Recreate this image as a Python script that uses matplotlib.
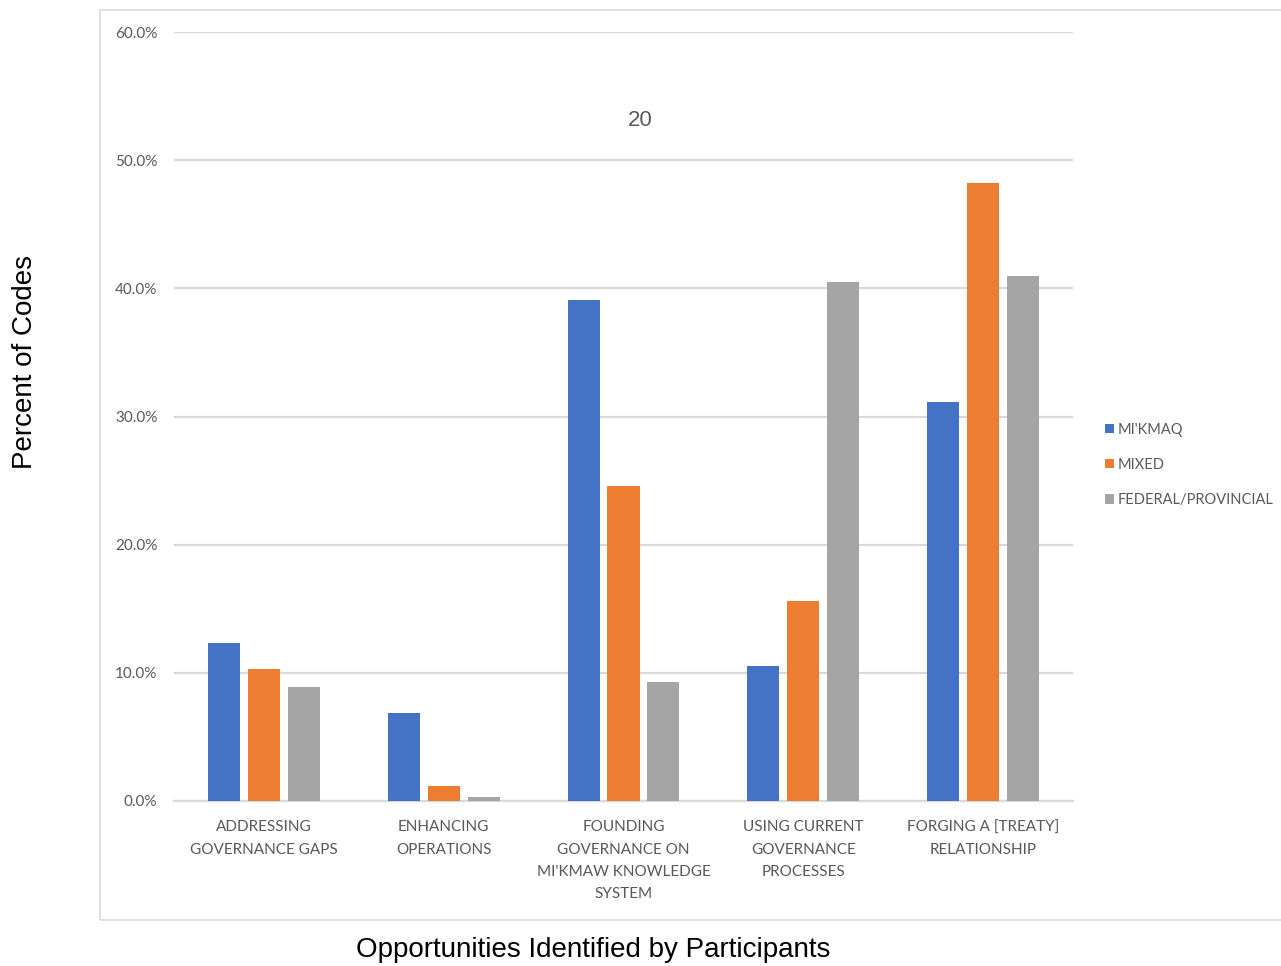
import numpy as np
import matplotlib.pyplot as plt
from matplotlib.patches import Rectangle
from matplotlib.ticker import PercentFormatter

categories = ['ADDRESSING\nGOVERNANCE GAPS',
              'ENHANCING\nOPERATIONS',
              'FOUNDING\nGOVERNANCE ON\nMI\'KMAW KNOWLEDGE\nSYSTEM',
              'USING CURRENT\nGOVERNANCE\nPROCESSES',
              'FORGING A [TREATY]\nRELATIONSHIP']
mikmaq = [12.3, 6.9, 39.1, 10.5, 31.1]
mixed = [10.3, 1.2, 24.6, 15.6, 48.2]
fed_prov = [8.9, 0.3, 9.3, 40.5, 41.0]
series_names = ["MI'KMAQ", 'MIXED', 'FEDERAL/PROVINCIAL']

colors = ['#4472C4', '#ED7D31', '#A5A5A5']
txt_gray = '#595959'
grid_gray = '#D9D9D9'
lab_font = ['Lato', 'DejaVu Sans']

W, H = 1281, 966
fig = plt.figure(figsize=(W / 100, H / 100), dpi=100)

# outer chart border
fig.patches.append(Rectangle((100 / W, 1 - 920 / H), 1.2, (920 - 10) / H,
                             transform=fig.transFigure, fill=False,
                             edgecolor=grid_gray, linewidth=1.2, zorder=0))

ax = fig.add_axes([174 / W, 1 - 801 / H, (1073 - 174) / W, (801 - 32) / H])

x = np.arange(len(categories))
bw = 0.178
off = 0.222
bars = []
for i, (vals, c) in enumerate(zip([mikmaq, mixed, fed_prov], colors)):
    b = ax.bar(x + (i - 1) * off, vals, bw, color=c, zorder=3)
    bars.append(b)

ax.set_xlim(-0.5, len(categories) - 0.5)
ax.set_ylim(0, 60)
ax.set_yticks(np.arange(0, 61, 10))
ax.yaxis.set_major_formatter(PercentFormatter(decimals=1))
ax.set_xticks(x)
ax.set_xticklabels(categories, linespacing=1.75)
ax.grid(axis='y', color=grid_gray, linewidth=1.6, zorder=0)
ax.set_axisbelow(True)
for s in ['top', 'right', 'left']:
    ax.spines[s].set_visible(False)
ax.spines['bottom'].set_color(grid_gray)
ax.spines['bottom'].set_linewidth(1.6)
ax.tick_params(axis='both', length=0, colors=txt_gray)
ax.tick_params(axis='y', pad=12, labelsize=11)
ax.tick_params(axis='x', pad=14, labelsize=11)
for t in ax.get_xticklabels() + ax.get_yticklabels():
    t.set_family(lab_font)

fig.text(640 / W, 1 - 121 / H, '20', ha='center', va='center',
         fontsize=16, color=txt_gray, family=['Liberation Sans'])

fig.text(25 / W, 1 - 362 / H, 'Percent of Codes', rotation=90,
         ha='center', va='center', fontsize=20, family=['Liberation Sans'])
fig.text(593 / W, 1 - 950 / H, 'Opportunities Identified by Participants',
         ha='center', va='center', fontsize=20, family=['Liberation Sans'])

leg = fig.legend([b[0] for b in bars], series_names, loc='center left',
                 bbox_to_anchor=(1092 / W, 1 - 465 / H), frameon=False,
                 handlelength=0.6, handleheight=0.6, handletextpad=0.25,
                 labelspacing=1.45, prop={'family': lab_font, 'size': 10.5})
for t in leg.get_texts():
    t.set_color(txt_gray)

fig.savefig('out.png', dpi=100)
